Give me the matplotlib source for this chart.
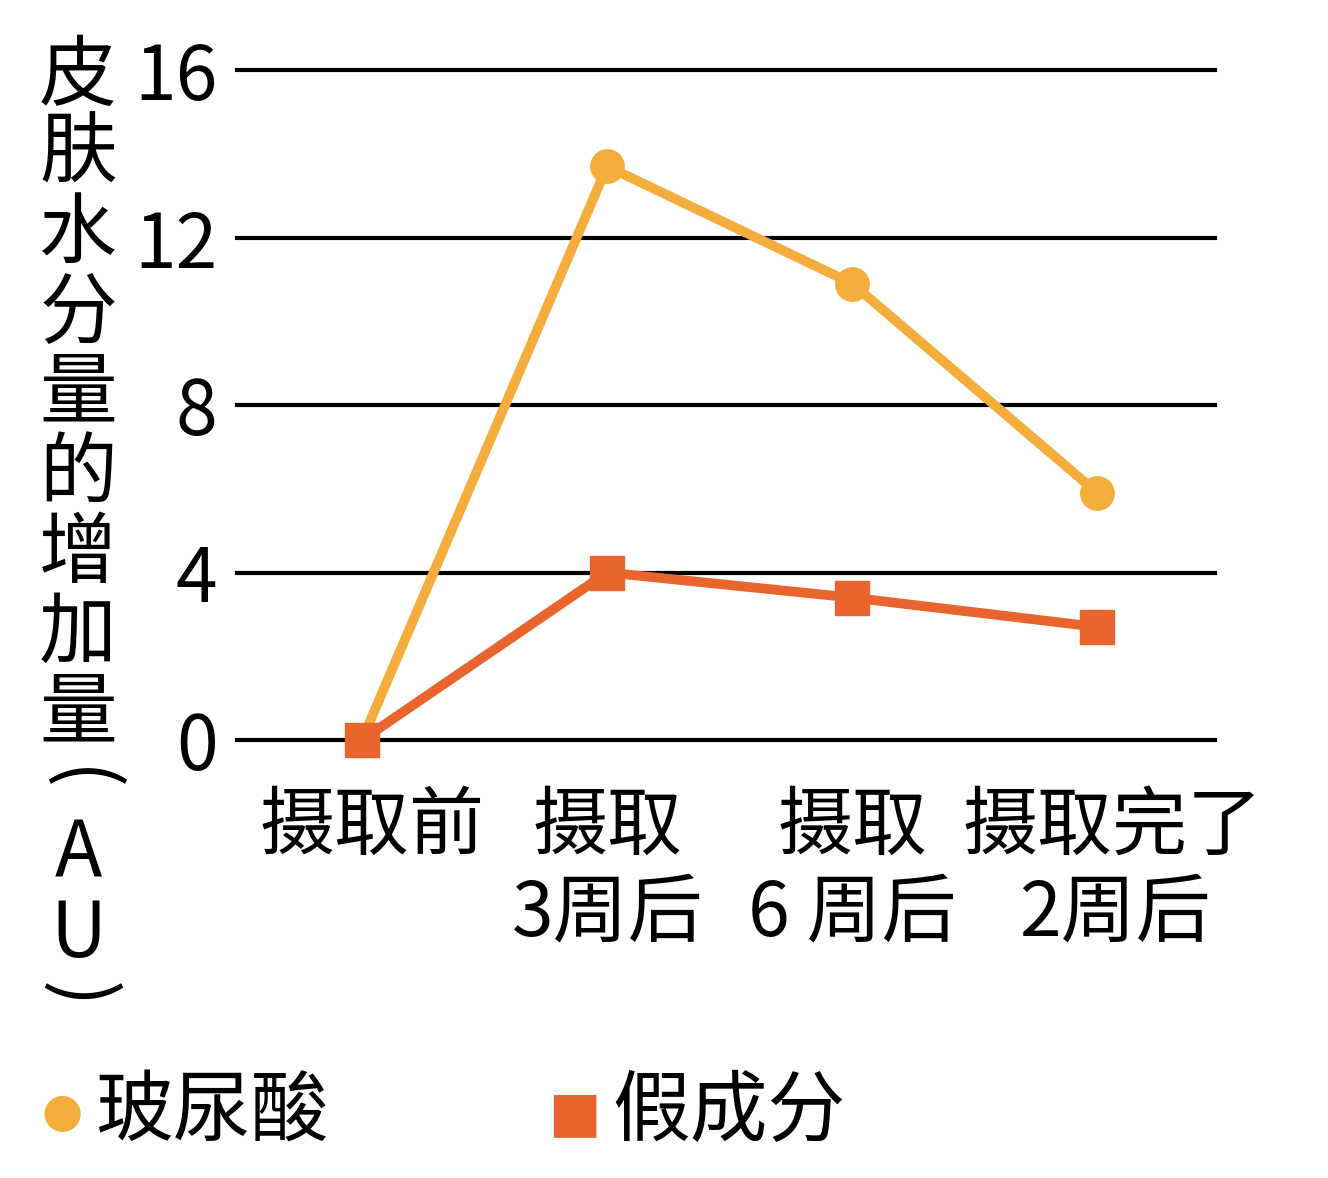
import matplotlib
matplotlib.use("Agg")
import matplotlib.pyplot as plt

plt.rcParams['font.family'] = ['Noto Sans CJK SC', 'DejaVu Sans']

categories_l1 = ["摄取前", "摄取", "摄取", "摄取完了"]
categories_l2 = ["", "3周后", "6 周后", "2周后"]
hyaluronic = [0, 13.7, 10.9, 5.9]
placebo = [0, 4.0, 3.4, 2.7]
yticks = [0, 4, 8, 12, 16]
ylabel = "皮肤水分量的增加量(AU)"
legend_labels = ["玻尿酸", "假成分"]

YEL = "#F4AC3B"
ORA = "#E9652D"

fig = plt.figure(figsize=(13.28, 11.78), dpi=100)
ax = fig.add_axes([237/1328, 438/1178, 978/1328, 670/1178])
ax.set_xlim(-0.51, 3.48)
ax.set_ylim(0, 16)
for v in yticks:
    ax.axhline(v, color="black", lw=3, zorder=1, clip_on=False)
for s in ax.spines.values():
    s.set_visible(False)
ax.set_xticks([])
ax.set_yticks(yticks)
ax.set_yticklabels([str(v) for v in yticks], fontsize=54, fontweight='light')
ax.tick_params(axis='y', length=0, pad=14)

x = range(len(hyaluronic))
ax.plot(x, hyaluronic, color=YEL, lw=7, marker='o', ms=24, zorder=3, clip_on=False)
ax.plot(x, placebo, color=ORA, lw=7, marker='s', ms=24, zorder=4, clip_on=False)

tr = ax.get_xaxis_transform()
offs1 = [0.04, 0, 0, 0.06]
offs2 = [0, 0, 0.0, 0.07]
for i, (a, b) in enumerate(zip(categories_l1, categories_l2)):
    ax.text(i + offs1[i], -0.13, a, transform=tr, ha='center', va='center', fontsize=54)
    if b:
        ax.text(i + offs2[i], -0.26, b, transform=tr, ha='center', va='center', fontsize=54)

# vertical y label
ys = [78, 155, 235, 315, 395, 475, 555, 635, 715, 780, 855, 935, 995]
for ch, yp in zip(ylabel, ys):
    rot = 270 if ch in "()" else 0
    fig.text(78/1328, 1 - yp/1178, ch, ha='center', va='center', fontsize=56,
             rotation=rot, rotation_mode='anchor', fontweight='light' if ch in "AU()" else 'normal')

# legend
fig.text(62/1328, 1 - 1113/1178, "●", color=YEL, ha='center', va='center', fontsize=34, family='DejaVu Sans')
fig.text(95/1328, 1 - 1113/1178, legend_labels[0], ha='left', va='center', fontsize=56)
fig.text(575/1328, 1 - 1115/1178, "■", color=ORA, ha='center', va='center', fontsize=40, family='DejaVu Sans')
fig.text(612/1328, 1 - 1113/1178, legend_labels[1], ha='left', va='center', fontsize=56)

fig.savefig("out.png", dpi=100, facecolor="white")
